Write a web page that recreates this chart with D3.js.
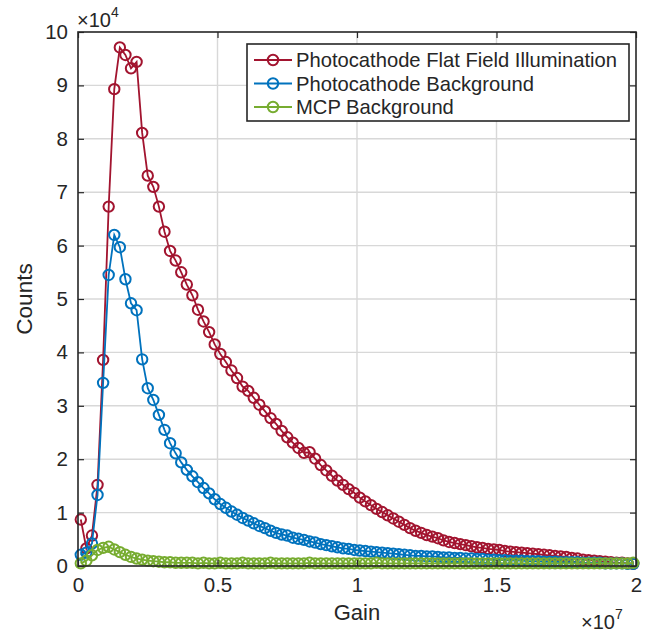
<!DOCTYPE html>
<html lang="en">
<head>
<meta charset="UTF-8">
<title>Gain distribution</title>
<script src="https://cdn.jsdelivr.net/npm/d3@7"></script>
<style>
  body { margin: 0; background: #fff; }
  text { font-family: "Liberation Sans", Arial, Helvetica, sans-serif; fill: #262626; }
</style>
</head>
<body>
<script>
// gain bin centres, in units of 1e6
const gain = [
  0.1, 0.3, 0.5, 0.7, 0.9, 1.1, 1.3, 1.5, 1.7, 1.9,
  2.1, 2.3, 2.5, 2.7, 2.9, 3.1, 3.3, 3.5, 3.7, 3.9,
  4.1, 4.3, 4.5, 4.7, 4.9, 5.1, 5.3, 5.5, 5.7, 5.9,
  6.1, 6.3, 6.5, 6.7, 6.9, 7.1, 7.3, 7.5, 7.7, 7.9,
  8.1, 8.3, 8.5, 8.7, 8.9, 9.1, 9.3, 9.5, 9.7, 9.9,
  10.1, 10.3, 10.5, 10.7, 10.9, 11.1, 11.3, 11.5, 11.7, 11.9,
  12.1, 12.3, 12.5, 12.7, 12.9, 13.1, 13.3, 13.5, 13.7, 13.9,
  14.1, 14.3, 14.5, 14.7, 14.9, 15.1, 15.3, 15.5, 15.7, 15.9,
  16.1, 16.3, 16.5, 16.7, 16.9, 17.1, 17.3, 17.5, 17.7, 17.9,
  18.1, 18.3, 18.5, 18.7, 18.9, 19.1, 19.3, 19.5, 19.7, 19.9
];

// counts, in units of 1e4
const flatField = [
  0.87, 0.33, 0.57, 1.52, 3.86, 6.73, 8.93, 9.71, 9.57, 9.32,
  9.44, 8.11, 7.31, 7.10, 6.73, 6.26, 5.90, 5.72, 5.50, 5.27,
  5.07, 4.80, 4.58, 4.38, 4.15, 3.97, 3.82, 3.66, 3.52, 3.36,
  3.28, 3.15, 3.02, 2.90, 2.77, 2.66, 2.53, 2.41, 2.31, 2.21,
  2.12, 2.13, 2.01, 1.89, 1.79, 1.69, 1.60, 1.52, 1.44, 1.37,
  1.28, 1.21, 1.14, 1.07, 1.01, 0.95, 0.89, 0.83, 0.77, 0.71,
  0.66, 0.62, 0.58, 0.55, 0.52, 0.48, 0.45, 0.43, 0.41, 0.39,
  0.37, 0.35, 0.34, 0.32, 0.31, 0.30, 0.28, 0.27, 0.26, 0.25,
  0.24, 0.23, 0.22, 0.21, 0.20, 0.19, 0.18, 0.17, 0.15, 0.14,
  0.12, 0.11, 0.10, 0.09, 0.08, 0.07, 0.06, 0.06, 0.05, 0.04
];
const pcBackground = [
  0.21, 0.25, 0.42, 1.33, 3.43, 5.45, 6.20, 5.97, 5.37, 4.92,
  4.79, 3.87, 3.33, 3.11, 2.83, 2.55, 2.30, 2.11, 1.94, 1.80,
  1.68, 1.57, 1.46, 1.36, 1.25, 1.16, 1.09, 1.02, 0.96, 0.90,
  0.85, 0.80, 0.75, 0.71, 0.66, 0.62, 0.59, 0.57, 0.53, 0.51,
  0.49, 0.46, 0.44, 0.41, 0.39, 0.37, 0.35, 0.33, 0.32, 0.30,
  0.29, 0.28, 0.27, 0.26, 0.25, 0.24, 0.23, 0.22, 0.21, 0.20,
  0.19, 0.19, 0.18, 0.18, 0.17, 0.16, 0.16, 0.15, 0.15, 0.14,
  0.14, 0.13, 0.13, 0.12, 0.12, 0.11, 0.11, 0.10, 0.10, 0.10,
  0.09, 0.09, 0.09, 0.08, 0.08, 0.08, 0.07, 0.07, 0.07, 0.07,
  0.06, 0.06, 0.06, 0.06, 0.05, 0.05, 0.05, 0.05, 0.04, 0.04
];
const mcpBackground = [
  0.05, 0.10, 0.20, 0.30, 0.34, 0.36, 0.31, 0.26, 0.21, 0.17,
  0.14, 0.12, 0.10, 0.09, 0.08, 0.07, 0.07, 0.06, 0.06, 0.06,
  0.06, 0.05, 0.06, 0.05, 0.05, 0.06, 0.05, 0.05, 0.05, 0.06,
  0.05, 0.05, 0.05, 0.05, 0.06, 0.05, 0.05, 0.05, 0.05, 0.05,
  0.05, 0.06, 0.05, 0.05, 0.05, 0.05, 0.05, 0.05, 0.05, 0.05,
  0.05, 0.05, 0.05, 0.06, 0.05, 0.05, 0.05, 0.05, 0.05, 0.05,
  0.05, 0.05, 0.05, 0.05, 0.05, 0.05, 0.05, 0.05, 0.05, 0.05,
  0.05, 0.05, 0.05, 0.05, 0.05, 0.05, 0.05, 0.05, 0.05, 0.05,
  0.05, 0.05, 0.05, 0.05, 0.05, 0.05, 0.05, 0.05, 0.05, 0.05,
  0.05, 0.05, 0.05, 0.05, 0.05, 0.05, 0.05, 0.05, 0.05, 0.06
];

const seriesNames = ['Photocathode Flat Field Illumination', 'Photocathode Background', 'MCP Background'];
const seriesColors = ['#A2142F', '#0072BD', '#77AC30'];
const xTicks = [0, 0.5, 1, 1.5, 2];            // x 1e7
const yTicks = [0, 1, 2, 3, 4, 5, 6, 7, 8, 9, 10]; // x 1e4

const w = 648, h = 634;
const margin = {left: 78, right: 12, top: 32, bottom: 68};
const iw = w - margin.left - margin.right;
const ih = h - margin.top - margin.bottom;

const svg = d3.select('body').append('svg')
  .attr('width', w).attr('height', h);

const g = svg.append('g').attr('transform', `translate(${margin.left},${margin.top})`);

const x = d3.scaleLinear().domain([0, 2]).range([0, iw]);
const y = d3.scaleLinear().domain([0, 10]).range([ih, 0]);

// grid
g.append('g').selectAll('line').data(xTicks.slice(1, -1)).join('line')
  .attr('x1', d => x(d)).attr('x2', d => x(d)).attr('y1', 0).attr('y2', ih)
  .attr('stroke', '#d8d8d8').attr('stroke-width', 1.4);
g.append('g').selectAll('line').data(yTicks.slice(1, -1)).join('line')
  .attr('y1', d => y(d)).attr('y2', d => y(d)).attr('x1', 0).attr('x2', iw)
  .attr('stroke', '#d8d8d8').attr('stroke-width', 1.4);

// series
const allSeries = [flatField, pcBackground, mcpBackground];
const line = d3.line().x(d => x(d[0] / 10)).y(d => y(d[1]));

allSeries.forEach((vals, k) => {
  const pts = gain.map((gv, i) => [gv, vals[i]]);
  const sg = g.append('g');
  sg.append('path').datum(pts)
    .attr('d', line)
    .attr('fill', 'none')
    .attr('stroke', seriesColors[k])
    .attr('stroke-width', 1.8);
  sg.selectAll('circle').data(pts).join('circle')
    .attr('cx', d => x(d[0] / 10))
    .attr('cy', d => y(d[1]))
    .attr('r', 5.2)
    .attr('fill', 'none')
    .attr('stroke', seriesColors[k])
    .attr('stroke-width', 2);
});

// axes (ticks inside, box on)
const tickLen = 6;
const axisStyle = sel => {
  sel.select('.domain').remove();
  sel.selectAll('line').attr('stroke', '#262626').attr('stroke-width', 1.2);
  sel.selectAll('text').attr('font-size', 20.5).attr('fill', '#262626')
    .style('font-family', '"Liberation Sans", Arial, sans-serif');
};

g.append('g').attr('transform', `translate(0,${ih})`)
  .call(d3.axisBottom(x).tickValues(xTicks).tickFormat(d3.format('')).tickSizeInner(-tickLen).tickPadding(11))
  .call(axisStyle);
g.append('g')
  .call(d3.axisTop(x).tickValues(xTicks).tickFormat('').tickSizeInner(-tickLen))
  .call(axisStyle);
g.append('g')
  .call(d3.axisLeft(y).tickValues(yTicks).tickFormat(d3.format('')).tickSizeInner(-tickLen).tickPadding(10))
  .call(axisStyle);
g.append('g').attr('transform', `translate(${iw},0)`)
  .call(d3.axisRight(y).tickValues(yTicks).tickFormat('').tickSizeInner(-tickLen))
  .call(axisStyle);

g.append('rect')
  .attr('width', iw).attr('height', ih)
  .attr('fill', 'none').attr('stroke', '#262626').attr('stroke-width', 1.6);

// exponent labels
const yExp = svg.append('text').attr('x', margin.left - 1).attr('y', 27).attr('font-size', 20).attr('fill', '#404040');
yExp.append('tspan').text('\u00d710');
yExp.append('tspan').attr('font-size', 14).attr('dy', -10).text('4');

const xExp = svg.append('text').attr('x', 581).attr('y', 629).attr('font-size', 20).attr('fill', '#404040');
xExp.append('tspan').text('\u00d710');
xExp.append('tspan').attr('font-size', 14).attr('dy', -10).text('7');

// axis labels
svg.append('text')
  .attr('x', margin.left + iw / 2).attr('y', 620)
  .attr('text-anchor', 'middle').attr('font-size', 22)
  .text('Gain');
svg.append('text')
  .attr('transform', `translate(32,${margin.top + ih / 2}) rotate(-90)`)
  .attr('text-anchor', 'middle').attr('font-size', 22.5)
  .text('Counts');

// legend
const lg = svg.append('g').attr('transform', 'translate(247,44)');
lg.append('rect').attr('width', 382).attr('height', 77)
  .attr('fill', '#fff').attr('stroke', '#262626').attr('stroke-width', 1.6);
seriesNames.forEach((name, k) => {
  const ry = 16 + k * 23.5;
  lg.append('line').attr('x1', 7).attr('x2', 45).attr('y1', ry).attr('y2', ry)
    .attr('stroke', seriesColors[k]).attr('stroke-width', 1.8);
  lg.append('circle').attr('cx', 26).attr('cy', ry).attr('r', 5.2)
    .attr('fill', 'none').attr('stroke', seriesColors[k]).attr('stroke-width', 2);
  lg.append('text').attr('x', 49).attr('y', ry + 7).attr('font-size', 20.2).text(name);
});
</script>
</body>
</html>
